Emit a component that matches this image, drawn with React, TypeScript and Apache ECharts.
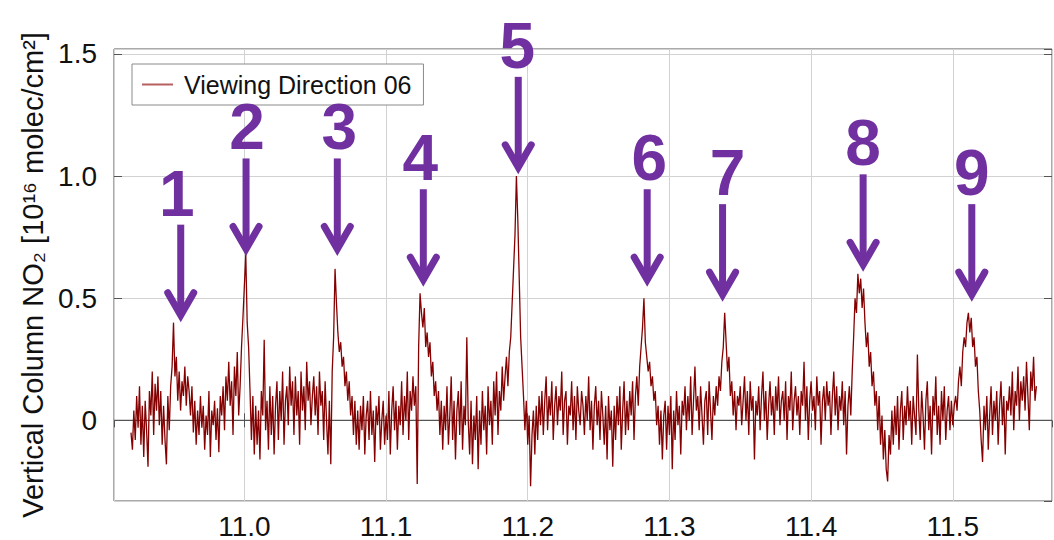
import React, { useEffect, useRef } from "react";
import * as echarts from "echarts";

// ---- data ----
const seriesName = "Viewing Direction 06";
const xStart = 10.92; // first sample
const xStep = 0.001; // sampling step of the record
// vertical column NO2 values, one per sample (10.920 ... 11.559)
const no2Values: number[] = [
  -0.05, -0.12, 0.04, -0.08, 0.10, -0.03, 0.14, -0.10, 0.06, -0.15,
  0.08, -0.04, -0.19, 0.12, 0.02, 0.20, -0.06, 0.15, 0.04, 0.18,
  -0.02, 0.12, -0.10, 0.06, -0.08, -0.18, 0.10, -0.04, 0.14, 0.22,
  0.40, 0.18, 0.26, 0.08, 0.20, 0.04, 0.16, 0.10, 0.22, 0.06,
  0.18, 0.12, 0.02, 0.14, -0.05, 0.08, -0.10, 0.04, -0.06, 0.10,
  -0.03, 0.06, -0.12, 0.02, -0.06, 0.12, -0.15, 0.04, -0.02, 0.08,
  -0.08, 0.05, -0.13, 0.10, 0.02, 0.14, -0.04, 0.18, 0.08, 0.24,
  0.06, 0.16, -0.06, 0.22, 0.10, 0.28, 0.02, 0.14, 0.30, 0.42,
  0.55, 0.68, 0.40, 0.30, 0.12, -0.08, 0.10, -0.14, 0.06, -0.10,
  0.04, -0.16, 0.12, 0.02, 0.33, -0.04, 0.08, -0.12, 0.14, -0.06,
  0.10, -0.14, 0.06, 0.16, -0.08, 0.12, 0.00, 0.20, -0.10, 0.08,
  0.14, -0.02, 0.22, 0.06, 0.16, -0.06, 0.18, 0.02, 0.12, -0.10,
  0.20, 0.04, 0.14, -0.04, 0.24, 0.08, 0.16, -0.02, 0.10, 0.18,
  0.02, 0.14, -0.06, 0.20, 0.06, 0.12, -0.08, 0.16, 0.00, -0.14,
  0.08, -0.18, 0.20, 0.34, 0.62, 0.48, 0.36, 0.28, 0.32, 0.22,
  0.26, 0.14, 0.20, 0.08, 0.16, 0.02, 0.10, -0.06, 0.08, -0.10,
  0.04, -0.12, 0.06, -0.04, 0.10, -0.14, 0.02, 0.08, -0.08, 0.12,
  -0.06, 0.04, -0.17, 0.06, -0.02, 0.10, -0.12, 0.00, 0.08, -0.10,
  0.02, -0.08, 0.12, -0.14, 0.04, 0.14, -0.04, 0.08, -0.12, 0.06,
  -0.02, 0.16, -0.06, 0.10, 0.00, 0.20, -0.08, 0.12, 0.04, 0.18,
  0.06, 0.14, -0.26, 0.30, 0.52, 0.44, 0.38, 0.46, 0.30, 0.36,
  0.26, 0.32, 0.18, 0.24, 0.10, 0.16, 0.04, 0.12, -0.06, 0.08,
  -0.12, 0.06, -0.04, 0.14, -0.10, 0.02, 0.18, -0.08, 0.08, -0.16,
  0.04, 0.12, -0.06, 0.16, -0.12, 0.06, -0.02, 0.34, 0.00, -0.14,
  0.08, -0.18, 0.02, -0.08, 0.10, -0.20, 0.04, -0.10, 0.12, -0.04,
  0.06, -0.14, 0.14, -0.02, 0.08, -0.10, 0.16, 0.02, 0.20, -0.06,
  0.12, 0.04, 0.22, 0.08, 0.18, 0.26, 0.14, 0.28, 0.34, 0.48,
  0.62, 0.76, 1.00, 0.82, 0.58, 0.34, 0.22, 0.10, -0.04, 0.08,
  -0.10, 0.02, -0.27, -0.06, 0.04, -0.14, 0.06, -0.08, 0.10, -0.02,
  0.12, -0.06, 0.08, 0.18, -0.04, 0.10, 0.02, 0.16, -0.08, 0.06,
  0.14, -0.02, 0.10, 0.04, 0.20, -0.06, 0.08, 0.12, -0.10, 0.06,
  0.02, 0.16, -0.04, 0.10, -0.08, 0.14, 0.04, -0.02, 0.12, 0.06,
  -0.06, 0.10, 0.00, 0.18, -0.04, 0.08, -0.12, 0.06, 0.14, -0.02,
  0.08, -0.08, 0.12, 0.02, -0.10, 0.06, -0.16, 0.10, -0.04, 0.04,
  -0.19, 0.06, -0.08, 0.10, -0.02, 0.14, -0.12, 0.04, 0.16, -0.06,
  0.08, -0.04, 0.12, 0.02, 0.16, -0.08, 0.10, 0.18, 0.06, 0.22,
  0.30, 0.38, 0.50, 0.32, 0.26, 0.20, 0.24, 0.14, 0.18, 0.08,
  0.12, -0.02, 0.06, -0.10, 0.04, -0.16, 0.02, 0.08, -0.12, 0.06,
  -0.06, 0.10, -0.20, 0.04, -0.08, 0.12, -0.02, 0.06, -0.14, 0.08,
  0.02, 0.14, -0.04, 0.10, 0.00, 0.18, -0.06, 0.08, 0.22, 0.04,
  0.10, -0.04, 0.14, 0.02, -0.10, 0.08, 0.12, -0.06, 0.16, 0.04,
  -0.08, 0.10, 0.02, 0.14, 0.06, 0.18, 0.12, 0.24, 0.30, 0.44,
  0.32, 0.20, 0.26, 0.10, 0.16, 0.02, 0.12, -0.04, 0.10, 0.06,
  0.14, -0.02, 0.08, 0.18, 0.00, 0.12, -0.06, 0.16, 0.04, 0.10,
  -0.16, 0.08, 0.02, 0.14, -0.04, 0.10, 0.20, 0.00, 0.12, -0.08,
  0.06, 0.16, 0.02, 0.10, -0.06, 0.14, 0.04, 0.18, -0.02, 0.08,
  0.12, 0.00, 0.16, -0.08, 0.10, 0.04, 0.20, -0.04, 0.08, 0.14,
  0.02, 0.10, -0.06, 0.12, 0.06, 0.24, 0.00, 0.14, -0.08, 0.08,
  0.16, 0.04, 0.10, -0.04, 0.18, 0.06, 0.12, -0.10, 0.08, 0.14,
  0.00, 0.16, 0.06, 0.12, -0.06, 0.10, 0.20, 0.02, 0.14, -0.04,
  0.10, 0.04, 0.16, -0.02, 0.12, -0.14, 0.06, 0.14, 0.02, 0.20,
  0.34, 0.50, 0.44, 0.60, 0.52, 0.58, 0.46, 0.54, 0.40, 0.30,
  0.36, 0.22, 0.28, 0.14, 0.20, 0.06, 0.12, -0.04, 0.10, -0.10,
  0.02, -0.16, -0.04, -0.20, -0.25, -0.06, -0.14, 0.04, -0.10, 0.06,
  -0.06, 0.10, -0.12, 0.04, 0.12, -0.08, 0.06, -0.02, 0.14, 0.00,
  0.08, -0.10, 0.10, 0.02, -0.06, 0.27, 0.04, -0.08, 0.12, 0.02,
  -0.12, 0.08, 0.16, -0.04, 0.06, -0.14, 0.10, 0.02, 0.18, -0.06,
  0.06, -0.10, 0.12, 0.00, 0.14, -0.08, 0.04, 0.10, -0.04, 0.08,
  -0.02, 0.06, 0.10, 0.04, 0.16, 0.22, 0.14, 0.28, 0.34, 0.30,
  0.40, 0.44, 0.36, 0.42, 0.30, 0.34, 0.22, 0.26, 0.12, 0.04,
  -0.08, -0.17, 0.06, -0.04, 0.10, -0.12, 0.02, 0.14, -0.06, 0.08,
  0.00, 0.12, -0.10, 0.06, 0.16, -0.02, 0.10, -0.14, 0.08, 0.04,
  0.14, 0.02, 0.20, -0.04, 0.12, 0.06, 0.22, 0.00, 0.16, 0.08,
  0.18, 0.04, 0.24, 0.10, -0.04, 0.20, 0.12, 0.26, 0.08, 0.14,
];

// annotated peaks
const peakLabels = ["1", "2", "3", "4", "5", "6", "7", "8", "9"];
const peakX = [10.9551, 11.0012, 11.0656, 11.1263, 11.1933, 11.2843, 11.3375, 11.4367, 11.5134];
const arrowTipY = [0.404, 0.675, 0.675, 0.549, 1.009, 0.549, 0.488, 0.61, 0.488];

// axes
const xMin = 10.908;
const xMax = 11.57;
const yMin = -0.33;
const yMax = 1.52;
const yAxisTitle = "Vertical Column NO₂ [10¹⁶ molec/cm²]";

// ---- style ----
const PURPLE = "#7030a0";
const LINE_RED = "#850000";
const FONT = '"Liberation Sans", Arial, Helvetica, sans-serif';
const labelNudge = [-4, 1, 2, -3, -1, 2, 5, 0, 0];

export default function App() {
  const ref = useRef<HTMLDivElement>(null);

  useEffect(() => {
    if (!ref.current) return;
    const chart = echarts.init(ref.current, null, { renderer: "svg" });
    const data = no2Values.map((v, i) => [xStart + i * xStep, v]);

    const xFmt = (v: number) => {
      const r = Math.round(v * 10) / 10;
      return Math.abs(v - r) < 1e-6 ? r.toFixed(1) : "";
    };
    const yFmt = (v: number) => {
      const r = Math.round(v * 2) / 2;
      if (Math.abs(v - r) > 1e-6) return "";
      return Math.abs(r) < 1e-9 ? "0" : r.toFixed(1);
    };

    chart.setOption({
      animation: false,
      backgroundColor: "#ffffff",
      grid: {
        left: 114,
        right: 2,
        top: 49,
        bottom: 36,
        show: true,
        borderColor: "#555555",
        borderWidth: 1,
        backgroundColor: "transparent",
      },
      legend: {
        data: [{ name: seriesName, icon: "rect", itemStyle: { color: "#b86060" } }],
        left: 132,
        top: 64,
        padding: [8, 12, 8, 10],
        itemWidth: 31,
        itemHeight: 2,
        borderColor: "#8a8a8a",
        borderWidth: 1,
        borderRadius: 0,
        backgroundColor: "#ffffff",
        selectedMode: false,
        textStyle: { fontSize: 25, color: "#111", fontFamily: FONT, padding: [0, 0, 0, 6] },
      },
      xAxis: [
        {
          type: "value",
          min: xMin,
          max: xMax,
          splitNumber: 6,
          axisLine: { show: false },
          axisTick: { show: true, inside: true, length: 7, lineStyle: { color: "#555", width: 1 } },
          axisLabel: {
            formatter: xFmt,
            fontSize: 28,
            color: "#111",
            fontFamily: FONT,
            margin: 11,
            showMinLabel: false,
            showMaxLabel: false,
          },
          splitLine: { show: true, lineStyle: { color: "#d2d2d2", width: 1 } },
        },
        {
          type: "value",
          position: "top",
          min: xMin,
          max: xMax,
          splitNumber: 6,
          axisLine: { show: false },
          axisTick: { show: true, inside: true, length: 7, lineStyle: { color: "#555", width: 1 } },
          axisLabel: { show: false },
          splitLine: { show: false },
        },
      ],
      yAxis: [
        {
          type: "value",
          min: yMin,
          max: yMax,
          splitNumber: 4,
          name: yAxisTitle,
          nameLocation: "middle",
          nameGap: 65,
          nameTextStyle: { fontSize: 29, color: "#111", fontFamily: FONT },
          axisLine: { show: false },
          axisTick: { show: true, inside: true, length: 8, lineStyle: { color: "#555", width: 1 } },
          axisLabel: {
            formatter: yFmt,
            fontSize: 28,
            color: "#111",
            fontFamily: FONT,
            margin: 17,
            showMinLabel: false,
            showMaxLabel: false,
          },
          splitLine: { show: true, lineStyle: { color: "#d2d2d2", width: 1 } },
        },
        {
          type: "value",
          position: "right",
          min: yMin,
          max: yMax,
          splitNumber: 4,
          axisLine: { show: false },
          axisTick: { show: true, inside: true, length: 8, lineStyle: { color: "#555", width: 1 } },
          axisLabel: { show: false },
          splitLine: { show: false },
        },
      ],
      series: [
        {
          name: "zero",
          type: "line",
          data: [
            [xMin, 0],
            [xMax, 0],
          ],
          symbol: "none",
          silent: true,
          z: 1,
          lineStyle: { color: "#555555", width: 1.2 },
        },
        {
          name: seriesName,
          type: "line",
          data,
          symbol: "none",
          showSymbol: false,
          z: 3,
          lineStyle: { color: LINE_RED, width: 1.3 },
          itemStyle: { color: LINE_RED },
        },
      ],
    });

    const elements: any[] = [];
    peakX.forEach((px, i) => {
      const p = chart.convertToPixel({ xAxisIndex: 0, yAxisIndex: 0 }, [px, arrowTipY[i]]) as number[];
      const tx = p[0];
      const ty = p[1];
      elements.push({
        type: "line",
        z: 100,
        shape: { x1: tx, y1: ty - 97, x2: tx, y2: ty - 10 },
        style: { stroke: PURPLE, lineWidth: 7, lineCap: "butt" },
      });
      elements.push({
        type: "polyline",
        z: 100,
        shape: {
          points: [
            [tx - 13, ty - 29],
            [tx, ty - 6.5],
            [tx + 13, ty - 29],
          ],
        },
        style: { stroke: PURPLE, fill: null, lineWidth: 7, lineCap: "round", lineJoin: "miter", miterLimit: 10 },
      });
      elements.push({
        type: "text",
        z: 100,
        x: tx + labelNudge[i],
        y: ty - 128,
        style: {
          text: peakLabels[i],
          fill: PURPLE,
          font: `bold 64px ${FONT}`,
          align: "center",
          verticalAlign: "middle",
        },
      });
    });
    chart.setOption({ graphic: { elements } });

    return () => chart.dispose();
  }, []);

  return (
    <div
      ref={ref}
      style={{ position: "absolute", left: 0, top: 0, width: 1054, height: 540, background: "#fff" }}
    />
  );
}
